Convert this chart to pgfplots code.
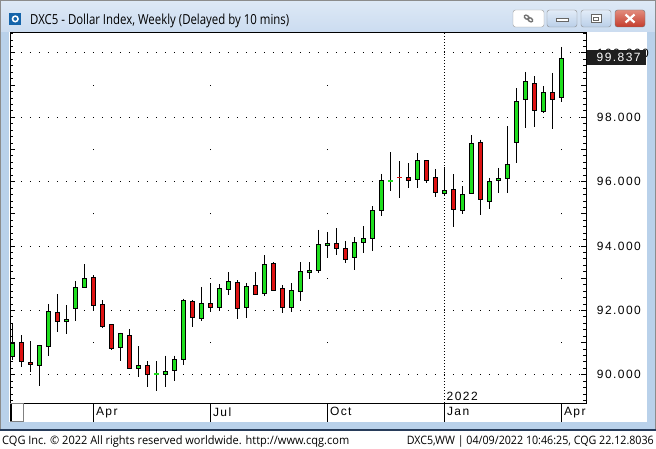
\documentclass[border=0pt]{standalone}
\usepackage{pgfplots}
\pgfplotsset{compat=1.18}
\usepackage{pgfplotstable}
\usepackage{fontspec}
\setmainfont{Liberation Sans}
\newfontfamily\axisfont[LetterSpace=12]{Liberation Sans}
\newfontfamily\uifont{Open Sans}
\definecolor{cgreen}{RGB}{30,222,30}
\definecolor{cred}{RGB}{222,18,18}
\definecolor{frame}{RGB}{185,209,234}
\definecolor{titletop}{RGB}{222,233,246}
\definecolor{titlebot}{RGB}{203,220,240}
\definecolor{btntop}{RGB}{226,236,248}
\definecolor{btnbot}{RGB}{186,207,232}
\definecolor{closetop}{RGB}{226,140,125}
\definecolor{closebot}{RGB}{196,60,45}
\definecolor{iconblue}{RGB}{20,100,170}
\definecolor{footline}{RGB}{40,60,90}

\pgfplotstableread{
x o c h l d
0 90.58 90.98 91.61 90.46 0
1 91.01 90.42 91.23 90.23 0
2 90.38 90.31 91.05 90.08 0
3 90.29 90.92 90.93 89.65 0
4 90.88 91.97 92.19 90.59 0
5 91.94 91.67 92.50 91.33 0
6 91.66 91.72 92.16 91.27 0
7 92.06 92.72 92.91 91.67 0
8 92.72 93.00 93.44 92.72 0
9 93.03 92.16 93.09 91.97 0
10 92.19 91.50 92.31 91.47 0
11 91.56 90.81 91.56 90.78 0
12 90.85 91.28 91.31 90.42 0
13 91.22 90.20 91.42 90.20 0
14 90.20 90.28 90.88 89.93 0
15 90.29 90.01 90.42 89.63 0
16 90.03 90.03 90.42 89.51 1
17 90.01 90.10 90.60 89.62 0
18 90.13 90.48 90.60 89.82 0
19 90.48 92.31 92.37 90.31 0
20 92.28 91.78 92.33 91.49 0
21 91.75 92.23 92.73 91.67 0
22 92.22 92.08 92.84 91.96 0
23 92.08 92.69 92.81 92.01 0
24 92.64 92.91 93.19 92.49 0
25 92.87 92.06 92.94 91.74 0
26 92.08 92.75 92.84 91.77 0
27 92.78 92.50 93.19 92.47 0
28 92.53 93.43 93.72 92.46 0
29 93.46 92.63 93.49 92.60 0
30 92.69 92.08 92.78 91.93 0
31 92.08 92.63 92.84 91.95 0
32 92.59 93.21 93.49 92.30 0
33 93.18 93.24 93.49 92.97 0
34 93.23 94.05 94.50 93.15 0
35 94.01 94.08 94.44 93.63 0
36 94.08 93.91 94.56 93.73 0
37 93.93 93.58 94.16 93.48 0
38 93.65 94.11 94.27 93.26 0
39 94.11 94.22 94.62 93.79 0
40 94.23 95.10 95.24 93.85 0
41 95.10 96.04 96.24 94.95 0
42 96.03 96.03 96.92 95.72 1
43 96.13 96.13 96.64 95.50 1
44 96.13 96.03 96.57 95.81 0
45 96.07 96.67 96.89 95.82 0
46 96.67 96.03 96.67 95.97 0
47 96.14 95.67 96.39 95.53 0
48 95.64 95.73 96.45 95.57 0
49 95.76 95.13 96.23 94.60 0
50 95.12 95.60 95.86 95.00 0
51 95.62 97.19 97.45 95.62 0
52 97.22 95.44 97.31 94.96 0
53 95.40 96.01 96.12 95.15 0
54 96.04 96.11 96.43 95.65 0
55 96.10 96.54 97.73 95.65 0
56 97.22 98.50 98.91 96.59 0
57 98.55 99.12 99.41 97.68 0
58 99.05 98.21 99.28 97.71 0
59 98.18 98.78 98.97 98.14 0
60 98.78 98.55 99.38 97.64 0
61 98.61 99.837 100.19 98.49 0
}\candles

\newcommand{\lblfont}{\axisfont\fontsize{12}{14}\selectfont}

\begin{document}
\begin{tikzpicture}
\begin{scope}[x=1pt,y=1pt]
\useasboundingbox (0,0) rectangle (656,448);
% window frame
\fill[frame] (0,0) rectangle (656,448);
\shade[top color=titletop,bottom color=titlebot] (0,416) rectangle (656,448);
\draw[black!45, line width=0.8pt] (0.4,19) -- (0.4,447.6) -- (655.6,447.6) -- (655.6,19);
\fill[white] (9,26.3) rectangle (646.7,415.7);
\fill[white] (0,0) rectangle (656,17.3);
\fill[footline] (0,17.3) rectangle (656,19.3);
% title bar
\fill[iconblue] (9.3,423) rectangle (21.3,435.3);
\draw[white, line width=1.5pt] (15.3,429.1) circle (2.8);
\node[anchor=base west, inner sep=0] at (30,423) {\resizebox{259pt}{10.5pt}{\uifont DXC5 - Dollar Index, Weekly (Delayed by 10 mins)}};
% buttons
\draw[black!40, fill=white, rounded corners=2.5pt] (513,421) rectangle (544,438);
\draw[black!55, line width=1.4pt, rotate around={-35:(528.5,429.5)}] (526.3,429.5) ellipse (2.6 and 1.8) (530.7,429.5) ellipse (2.6 and 1.8);
\shade[top color=btntop, bottom color=btnbot, rounded corners=2.5pt, draw=black!45] (547,421) rectangle (577,438);
\draw[black!60, fill=white] (556,426.5) rectangle (568,430);
\shade[top color=btntop, bottom color=btnbot, rounded corners=2.5pt, draw=black!45] (581,421) rectangle (611,438);
\draw[black!60, fill=white] (591,425.5) rectangle (601,433.5);
\draw[black!60] (593.5,428) rectangle (598.5,431);
\shade[top color=closetop, bottom color=closebot, rounded corners=2.5pt, draw=black!55] (615,421) rectangle (645,438);
\draw[white, line width=2.2pt] (625.5,425.5) -- (634.5,433.5) (625.5,433.5) -- (634.5,425.5);
\end{scope}

% axis with grid, ticks, wicks
\begin{axis}[
  at={(10pt,45pt)}, anchor=south west, scale only axis,
  width=576pt, height=370.7pt,
  xmin=-0.256, xmax=63.744, ymin=89.124, ymax=100.643,
  axis line style={line width=1pt, black},
  xtick={9,22,35,48,61}, xticklabels={Apr,Jul,Oct,Jan,Apr},
  xtick style={draw=none},
  xticklabel style={anchor=north west, inner sep=0pt, xshift=2.5pt, yshift=-4.3pt, font=\lblfont},
  ytick={90,92,...,100},
  minor ytick={89.2,89.4,...,100.6},
  extra y ticks={91,93,95,97,99}, extra y tick labels={},
  major tick length=5pt, minor tick length=3pt,
  ytick style={line width=1pt, black},
  minor tick style={line width=1pt, black},
  yticklabel pos=right,
  yticklabel shift=10.7pt,
  yticklabel style={anchor=west, inner sep=0pt, font=\lblfont},
  /pgf/number format/fixed, /pgf/number format/fixed zerofill,
  /pgf/number format/precision=3, /pgf/number format/assume math mode=true,
]
\pgfplotsinvokeforeach{90,92,94,96,98,100}{
  \draw[black, line width=1pt, dash pattern=on 1pt off 8pt, dash phase=7.2pt]
    (axis cs:-0.256,#1) -- (axis cs:63.744,#1);
}
\pgfplotsinvokeforeach{9,22,35,61}{
  \draw[black, line width=1pt, dash pattern=on 1pt off 63.36pt, dash phase=4.5pt]
    (axis cs:#1,89.124) -- (axis cs:#1,100.643);
}
\draw[black, line width=1pt, dash pattern=on 1pt off 2pt] (axis cs:48,89.124) -- (axis cs:48,100.643);
\addplot[draw=none, mark=none, error bars/.cd, y dir=minus, y explicit, error mark=none,
  error bar style={draw=black, line width=1pt, solid}]
  table[x=x, y=h, y error minus expr=\thisrow{h}-\thisrow{l}] {\candles};
\addplot[only marks, mark=-, mark size=2.6pt, mark options={cgreen, line width=1.6pt}]
  coordinates {(16,90.03) (42,96.03)};
\addplot[only marks, mark=-, mark size=2.6pt, mark options={cred, line width=1.2pt}]
  coordinates {(43,96.13)};
\end{axis}

% candle bodies
\begin{axis}[
  at={(10pt,45pt)}, anchor=south west, scale only axis,
  width=576pt, height=370.7pt,
  xmin=-0.256, xmax=63.744, ymin=89.124, ymax=100.643,
  hide axis, ybar stacked, bar width=4pt,
]
\addplot[draw=none, fill=none] table[x=x, y expr={\thisrow{d}>0 ? 50 : min(\thisrow{o},\thisrow{c})}] {\candles};
\addplot[draw=black, line width=1pt, fill=cgreen] table[x=x, y expr={max(\thisrow{c}-\thisrow{o},0)}] {\candles};
\addplot[draw=black, line width=1pt, fill=cred] table[x=x, y expr={max(\thisrow{o}-\thisrow{c},0)}] {\candles};
\end{axis}

\begin{scope}[x=1pt,y=1pt]
% x strip
\foreach \k in {9,22,35,48,61} \draw[black, line width=1pt] ({12.3+9*\k},45) -- ({12.3+9*\k},26.3);
\draw[black!50, fill=white] (10,26.6) rectangle (23.3,45);
\draw[black, line width=1.3pt] (11,27.5) -- (11,44.5);
\node[anchor=base west, inner sep=0, font=\lblfont] at (446.5,48) {2022};
% last price
\fill[black!88] (586.7,383) rectangle (645.7,398);
\node[anchor=west, inner sep=0, text=white, font=\lblfont] at (596.5,390.5) {99.837};
% footer
\node[anchor=base west, inner sep=0] at (2,4) {\resizebox{347pt}{8.8pt}{\uifont CQG Inc. © 2022 All rights reserved worldwide. http://www.cqg.com}};
\node[anchor=base east, inner sep=0] at (654,4) {\resizebox{247pt}{8.8pt}{\uifont DXC5,WW | 04/09/2022 10:46:25, CQG 22.12.8036}};
\end{scope}
\end{tikzpicture}
\end{document}
